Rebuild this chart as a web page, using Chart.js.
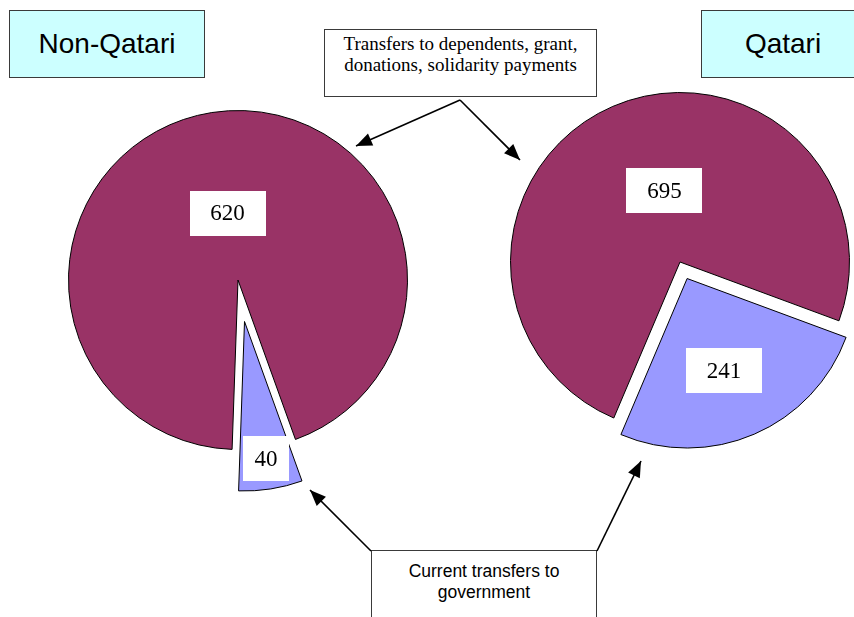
<!DOCTYPE html>
<html>
<head>
<meta charset="utf-8">
<script src="https://cdn.jsdelivr.net/npm/chart.js"></script>
<style>
    html, body { margin: 0; padding: 0; background: #fff; }
    #stage { position: relative; width: 854px; height: 617px; overflow: hidden; background: #fff; }
    canvas { position: absolute; }
    #pie-non { left: 18px; top: 60px; }
    #pie-qat { left: 460px; top: 42px; }
    .group-box {
        position: absolute; top: 10px; height: 68px; box-sizing: border-box;
        background: #ccffff; border: 1.5px solid #3a3a3a;
        font: 28px "Liberation Sans", Arial, sans-serif; color: #000;
        display: flex; align-items: center; justify-content: center;
    }
    .note-box {
        position: absolute; box-sizing: border-box; background: #fff;
        border: 1.5px solid #3a3a3a; text-align: center; color: #000;
    }
    #arrows { position: absolute; left: 0; top: 0; }
</style>
</head>
<body>
<div id="stage">
    <canvas id="pie-non" width="440" height="440"></canvas>
    <canvas id="pie-qat" width="440" height="440"></canvas>

    <div class="group-box" id="title-non" style="left: 9px; width: 196px;"></div>
    <div class="group-box" id="title-qat" style="left: 701px; width: 164px;"></div>

    <div class="note-box" id="note-top" style="left: 324px; top: 29px; width: 273px; height: 68px;
        font: 19px 'Liberation Serif', 'Times New Roman', serif; line-height: 21px; padding-top: 3px;"></div>
    <div class="note-box" id="note-bottom" style="left: 371px; top: 550px; width: 226px; height: 90px;
        font: 17.5px 'Liberation Sans', Arial, sans-serif; line-height: 21px; padding-top: 10px;"></div>

    <svg id="arrows" width="854" height="617">
        <defs>
            <marker id="head" markerUnits="userSpaceOnUse" markerWidth="17" markerHeight="13"
                    refX="16" refY="6.5" orient="auto" overflow="visible">
                <path d="M0,0 L16,6.5 L0,13 z" fill="#000"/>
            </marker>
        </defs>
        <g stroke="#000" stroke-width="1.6" fill="none" marker-end="url(#head)">
            <line x1="460" y1="100" x2="356" y2="146"/>
            <line x1="460" y1="100" x2="520" y2="160"/>
            <line x1="371" y1="551" x2="310" y2="490"/>
            <line x1="597" y1="551" x2="641" y2="461"/>
        </g>
    </svg>
</div>

<script>
    const categories = [
        'Transfers to dependents, grant, donations, solidarity payments',
        'Current transfers to government',
    ];
    const groupNames = ['Non-Qatari', 'Qatari'];
    const nonQatariValues = [620, 40];
    const qatariValues = [695, 241];

    const sliceColors = ['#993366', '#9999ff'];

    // draws each arc through the library, pulled out along its middle angle
    const explodePlugin = {
        id: 'explode',
        beforeDatasetDraw(chart, args, opts) {
            const ctx = chart.ctx;
            const dist = opts.distances || [];

            args.meta.data.forEach((arc, i) => {
                const mid = (arc.startAngle + arc.endAngle) / 2;
                const d = dist[i] || 0;

                ctx.save();
                ctx.translate(Math.cos(mid) * d, Math.sin(mid) * d);
                arc.draw(ctx, chart.chartArea);
                ctx.restore();
            });

            return false;
        },
    };

    const valueLabelPlugin = {
        id: 'valueLabels',
        afterDatasetsDraw(chart, args, opts) {
            const ctx = chart.ctx;
            const meta = chart.getDatasetMeta(0);
            const values = chart.data.datasets[0].data;
            const dist = chart.options.plugins.explode.distances;

            meta.data.forEach((arc, i) => {
                const spot = opts.spots[i];
                const mid = (arc.startAngle + arc.endAngle) / 2;
                const ang = mid + spot.turn * Math.PI / 180;
                const r = arc.outerRadius * spot.frac;
                const cx = arc.x + Math.cos(mid) * dist[i] + Math.cos(ang) * r;
                const cy = arc.y + Math.sin(mid) * dist[i] + Math.sin(ang) * r;

                const text = String(values[i]);
                ctx.save();
                ctx.font = '23px "Liberation Serif", "Times New Roman", serif';
                const w = text.length > 2 ? 76 : 46;
                const h = 45;
                ctx.fillStyle = '#fff';
                ctx.fillRect(Math.round(cx - w / 2), Math.round(cy - h / 2), w, h);
                ctx.fillStyle = '#000';
                ctx.textAlign = 'center';
                ctx.textBaseline = 'middle';
                ctx.fillText(text, cx, cy + 1);
                ctx.restore();
            });
        },
    };

    function makePie(canvasId, values, rotation, distances, spots) {
        return new Chart(document.getElementById(canvasId), {
            type: 'pie',
            data: {
                labels: categories,
                datasets: [{
                    data: values,
                    backgroundColor: sliceColors,
                    borderColor: '#000',
                    borderWidth: 1,
                    radius: 169.5,
                    rotation: rotation,
                }],
            },
            options: {
                responsive: false,
                animation: false,
                events: [],
                layout: { padding: 0 },
                plugins: {
                    legend: { display: false },
                    tooltip: { enabled: false },
                    explode: { distances },
                    valueLabels: { spots },
                },
            },
            plugins: [explodePlugin, valueLabelPlugin],
        });
    }

    makePie('pie-non', nonQatariValues, 182, [0, 42], [
        { frac: 0.40, turn: 0 },
        { frac: 0.82, turn: 0 },
    ]);

    makePie('pie-qat', qatariValues, 203, [0, 18], [
        { frac: 0.43, turn: 11 },
        { frac: 0.585, turn: 1.5 },
    ]);

    document.getElementById('title-non').textContent = groupNames[0];
    document.getElementById('title-qat').textContent = groupNames[1];
    document.getElementById('note-top').innerHTML = 'Transfers to dependents, grant,<br>donations, solidarity payments';
    document.getElementById('note-bottom').innerHTML = 'Current transfers to<br>government';
</script>
</body>
</html>
